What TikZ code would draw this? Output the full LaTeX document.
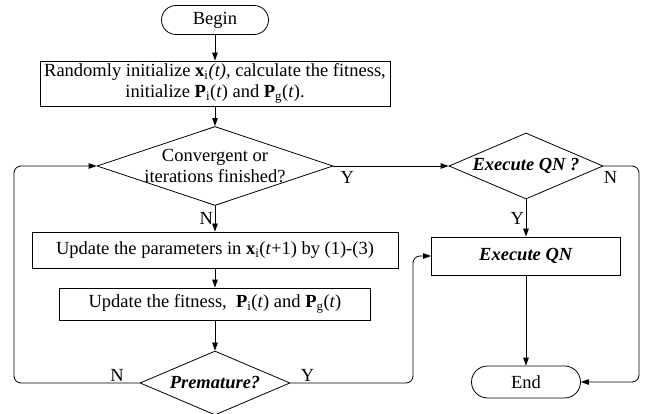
\documentclass[tikz,border=0pt]{standalone}
\usepackage{fontspec}
\setmainfont{Liberation Serif}
\usetikzlibrary{shapes.geometric,arrows.meta}

\begin{document}
\begin{tikzpicture}[x=1pt,y=-1pt,line width=0.8pt,
    font=\fontsize{18.5}{21}\selectfont,
    box/.style={draw,rectangle,inner sep=1pt,align=center},
    term/.style={draw,rectangle,rounded corners=14.5pt,minimum width=107pt,minimum height=29pt},
    decision/.style={draw,diamond,inner sep=0pt,aspect=2.3},
    arr/.style={-{Triangle[length=8pt,width=5.5pt]}},
    lbl/.style={inner sep=1.5pt}]
    \useasboundingbox (0,0) rectangle (656,414);

    % main column
    \node[term] (begin) at (215,20) {Begin};
    \node[box,minimum width=350pt,minimum height=45pt] (init) at (215,83.5)
        {Randomly initialize \textbf{x}\textsubscript{i}\textit{(t),} calculate the fitness,\\
         initialize \textbf{P}\textsubscript{i}(\textit{t}) and \textbf{P}\textsubscript{g}(\textit{t}).};
    \node[decision,minimum width=236pt,minimum height=79pt,
        label={[align=center]center:Convergent or\\iterations finished?}] (conv) at (215,166) {};
    \node[box,minimum width=366pt,minimum height=36pt] (upd) at (215,250)
        {Update the parameters in \textbf{x}\textsubscript{i}(\textit{t}+1) by (1)-(3)};
    \node[box,minimum width=311pt,minimum height=32pt] (fit) at (215,304)
        {Update the fitness,\ \ \textbf{P}\textsubscript{i}(\textit{t}) and \textbf{P}\textsubscript{g}(\textit{t})};
    \node[decision,minimum width=150pt,minimum height=64pt] (prem) at (215,383)
        {\textbf{\textit{Premature?}}};

    % right column
    \node[decision,minimum width=154pt,minimum height=66pt] (execq) at (526,166)
        {\textbf{\textit{Execute QN ?}}};
    \node[box,minimum width=189pt,minimum height=38pt] (qn) at (526,256)
        {\textbf{\textit{Execute QN}}};
    \node[term,minimum width=109pt,minimum height=32pt,rounded corners=16pt] (end) at (526,382) {End};

    \coordinate (lx) at (14,0);
    \coordinate (rx) at (413,0);
    \coordinate (fx) at (639,0);

    \draw[arr] (begin) -- (init);
    \draw[arr] (init) -- (conv);
    \draw[arr] (conv) -- node[lbl,left] {N} (upd);
    \draw[arr] (upd) -- (fit);
    \draw[arr] (fit) -- (prem);
    \draw[arr] (conv.east) -- node[lbl,pos=0.12,below,inner sep=5pt] {Y} (execq.west);
    \draw[arr] (execq) -- node[lbl,left] {Y} (qn);
    \draw[arr] (qn) -- (end);

    % loops
    \draw[arr,rounded corners=7pt] (prem.west) -- node[lbl,pos=0.18,above] {N} (prem.west -| lx) |- (conv.west);
    \draw[arr,rounded corners=7pt] (prem.east) -- node[lbl,pos=0.14,above] {Y} (prem.east -| rx) |- (qn.west);
    \draw[arr,rounded corners=7pt] (execq.east) -- node[lbl,pos=0.2,below,inner sep=5pt] {N} (execq.east -| fx) |- (end.east);
\end{tikzpicture}
\end{document}
